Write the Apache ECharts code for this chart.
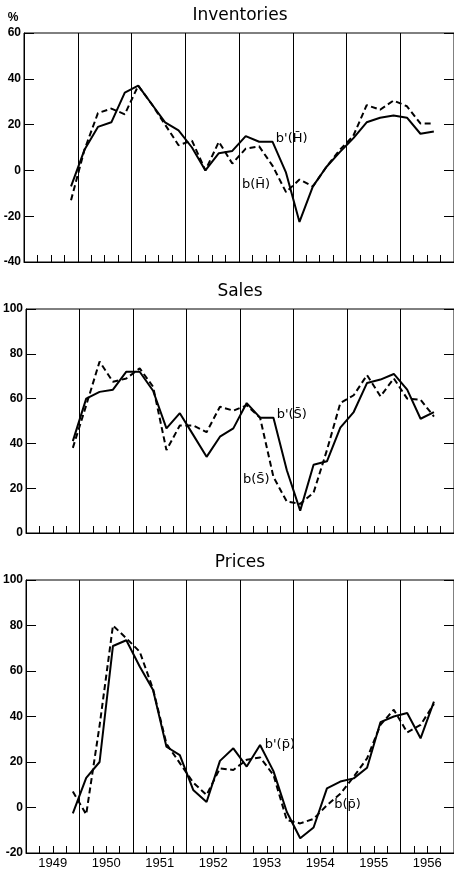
<!DOCTYPE html>
<html><head><meta charset="utf-8">
<script src="https://cdn.jsdelivr.net/npm/echarts@6/dist/echarts.min.js"></script>
<style>html,body{margin:0;padding:0;background:#fff}#c{width:454px;height:872px}</style>
</head><body><div id="c"></div>
<script>
// quarterly observations (plotted at mid-quarter)
const quarters = ['1949-4',
  '1950-1','1950-2','1950-3','1950-4',
  '1951-1','1951-2','1951-3','1951-4',
  '1952-1','1952-2','1952-3','1952-4',
  '1953-1','1953-2','1953-3','1953-4',
  '1954-1','1954-2','1954-3','1954-4',
  '1955-1','1955-2','1955-3','1955-4',
  '1956-1','1956-2','1956-3'];
const yearLabels = ['1949','1950','1951','1952','1953','1954','1955','1956'];

// Inventories
const invBPrime = [-7, 9, 19, 21, 34, 37, 29, 21, 17.5, 10, 0, 7.5, 8.5, 15, 12.5, 12.5, -1, -22.5, -7, 1.5, 8, 14, 21, 23, 24, 23, 16, 17];
const invB      = [-13, 9, 25, 27, 24.5, 37, 29, 20, 11, 13, 0, 12.5, 3, 9.5, 10.5, 2, -9.5, -4, -7, 1.5, 9, 15, 28.5, 26.5, 30.5, 28, 20.5, 20.5];
// Sales
const salesBPrime = [41, 60, 63, 64, 72, 72, 63.5, 46.7, 53.5, 43.8, 34, 43, 46.7, 58, 51.5, 51.5, 28, 10, 30.5, 32, 47, 54, 67, 68.5, 71, 64, 51, 54];
const salesB      = [38, 57, 76.5, 67.5, 69, 73.5, 65.3, 37, 48, 48, 45, 56.4, 54.6, 57, 51.5, 25, 14, 13, 18, 37, 58, 61.5, 70.5, 61, 69, 60, 59.5, 52];
// Prices
const priceBPrime = [-2.6, 13, 20, 71, 73.5, 62, 51.6, 26.7, 23, 7.7, 2.4, 20.5, 26, 18, 27.5, 16, -2, -13.5, -8.8, 8.4, 11.4, 12.8, 17.5, 37.5, 40, 41.5, 30.4, 46.5];
const priceB      = [7, -3, 36, 80, 74.4, 68.5, 52, 28, 19.5, 11, 5.5, 17.2, 16.5, 21, 22, 14.3, -5.5, -7, -5, 1, 6, 13.5, 21.6, 36.3, 43, 33, 36.3, 45.5];

const yRanges = [[-40, 60], [0, 100], [-20, 100]];
const titles = ['Inventories', 'Sales', 'Prices'];

function qx(q) { const p = q.split('-'); return +p[0] + (+p[1] - 0.5) / 4; }
function pairs(vals) { return quarters.map((q, i) => [qx(q), vals[i]]); }

const BLK = '#000';
const grids = [
  {left: 24, width: 432, top: 33, height: 229},
  {left: 24, width: 432, top: 309, height: 224},
  {left: 24, width: 432, top: 580, height: 273}
].map(g => Object.assign(g, {show: true, borderColor: BLK, borderWidth: 1, backgroundColor: 'transparent'}));

const xAxes = [], yAxes = [];
for (let i = 0; i < 3; i++) {
  xAxes.push({
    type: 'value', gridIndex: i, min: 1949, max: 1957, interval: 1, position: 'bottom',
    axisLine: {show: true, onZero: false, lineStyle: {color: BLK, width: 1}},
    axisTick: {show: true, inside: true, length: 7, lineStyle: {color: BLK, width: 1}},
    minorTick: {show: true, splitNumber: 4, length: 7, lineStyle: {color: BLK, width: 1}},
    splitLine: {show: true, lineStyle: {color: BLK, width: 1}},
    axisLabel: {show: false}
  });
  yAxes.push({
    type: 'value', gridIndex: i, min: yRanges[i][0], max: yRanges[i][1], interval: 20, position: 'left',
    axisLine: {show: true, onZero: false, lineStyle: {color: BLK, width: 1}},
    axisTick: {show: true, inside: true, length: 10, lineStyle: {color: BLK, width: 1}},
    splitLine: {show: false},
    axisLabel: {show: true, color: BLK, fontFamily: 'Liberation Sans', fontWeight: 'bold', fontSize: 12, margin: 3}
  });
  yAxes.push({
    type: 'value', gridIndex: i, min: yRanges[i][0], max: yRanges[i][1], interval: 20, position: 'right',
    axisLine: {show: false, onZero: false},
    axisTick: {show: true, inside: true, length: 10, lineStyle: {color: BLK, width: 1}},
    splitLine: {show: false},
    axisLabel: {show: false}
  });
}
// year labels centred in each year
xAxes.push({
  type: 'category', gridIndex: 2, data: yearLabels, boundaryGap: true, position: 'bottom',
  axisLine: {show: false, onZero: false}, axisTick: {show: false}, splitLine: {show: false},
  axisLabel: {show: true, interval: 0, color: BLK, fontFamily: 'Liberation Sans', fontSize: 13, margin: 4}
});

function lbl(text, x, y) {
  return {coord: [x, y], symbolSize: 0,
    label: {show: true, position: 'right', distance: 0, formatter: text, color: BLK,
            fontFamily: 'DejaVu Sans', fontSize: 13}};
}
function line(data, i, dashed, mark) {
  const s = {
    type: 'line', xAxisIndex: i, yAxisIndex: i * 2, data: pairs(data), symbol: 'none',
    lineStyle: {color: BLK, width: 2, type: dashed ? [6, 3.5] : 'solid'}, z: 5, animation: false
  };
  if (mark) s.markPoint = {symbol: 'circle', symbolSize: 0, animation: false, data: [mark]};
  return s;
}

const series = [
  line(invBPrime, 0, false, lbl("b'(H\u0304)", 1953.685, 13.7)),
  line(invB, 0, true, lbl("b(H\u0304)", 1953.056, -6.4)),
  line(salesBPrime, 1, false, lbl("b'(S\u0304)", 1953.685, 52.7)),
  line(salesB, 1, true, lbl("b(S\u0304)", 1953.056, 23.7)),
  line(priceBPrime, 2, false, lbl("b'(p\u0304)", 1953.463, 27.5)),
  line(priceB, 2, true, lbl("b(p\u0304)", 1954.76, 1.1))
];

const titleY = [16, 292, 563];
const graphic = titles.map((t, i) => ({
  type: 'text', x: 240, y: titleY[i],
  style: {text: t, font: '17px "DejaVu Sans"', fill: BLK, align: 'center', verticalAlign: 'middle',
          textAlign: 'center', textVerticalAlign: 'middle'}
}));
graphic.push({type: 'text', x: 13, y: 18,
  style: {text: '%', font: 'bold 12px "Liberation Sans"', fill: BLK, align: 'center', verticalAlign: 'middle',
          textAlign: 'center', textVerticalAlign: 'middle'}});

const chart = echarts.init(document.getElementById('c'), null, {renderer: 'canvas'});
chart.setOption({
  animation: false, backgroundColor: '#fff',
  grid: grids, xAxis: xAxes, yAxis: yAxes, series: series, graphic: graphic
});
</script></body></html>
